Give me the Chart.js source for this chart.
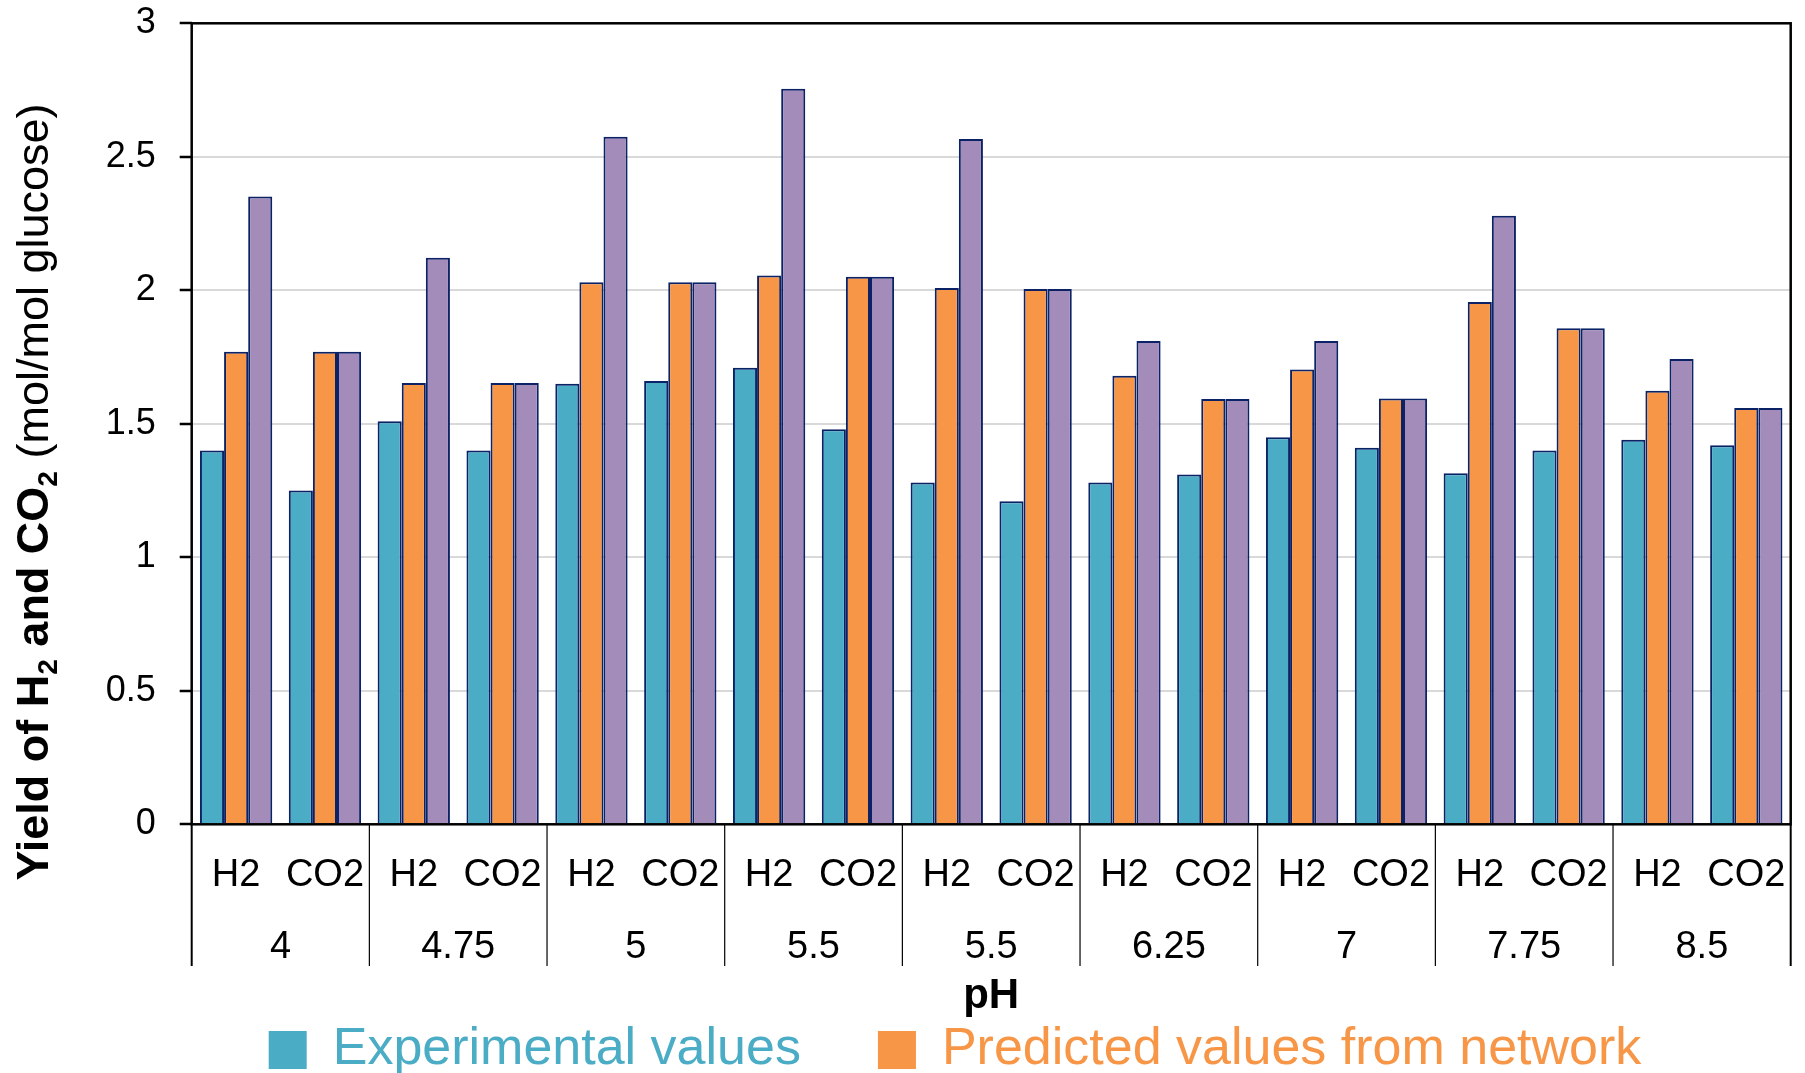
<!DOCTYPE html>
<html>
<head>
<meta charset="utf-8">
<title>Yield of H2 and CO2 vs pH</title>
<script src="https://cdn.jsdelivr.net/npm/chart.js@4.4.1/dist/chart.umd.min.js"></script>
<style>
  html, body { margin: 0; padding: 0; background: #ffffff; }
  #wrap { width: 1805px; height: 1073px; }
</style>
</head>
<body>
<div id="wrap"><canvas id="chart" width="1805" height="1073"></canvas></div>
<script>
// Inner category level (gas) and outer category level (pH)
const gasLabels = ['H2', 'CO2', 'H2', 'CO2', 'H2', 'CO2', 'H2', 'CO2', 'H2', 'CO2',
                   'H2', 'CO2', 'H2', 'CO2', 'H2', 'CO2', 'H2', 'CO2'];
const phLabels = ['4', '4.75', '5', '5.5', '5.5', '6.25', '7', '7.75', '8.5'];

// Yields, mol/mol glucose
const experimental = [1.40, 1.25, 1.51, 1.40, 1.65, 1.66, 1.71, 1.48, 1.28, 1.21,
                      1.28, 1.31, 1.45, 1.41, 1.315, 1.40, 1.44, 1.42];
const predicted = [1.77, 1.77, 1.653, 1.653, 2.03, 2.03, 2.055, 2.051, 2.009, 2.005,
                   1.68, 1.593, 1.703, 1.595, 1.956, 1.858, 1.624, 1.559];
const thirdSeries = [2.351, 1.77, 2.122, 1.653, 2.575, 2.03, 2.755, 2.051, 2.567, 2.005,
                     1.81, 1.593, 1.81, 1.595, 2.279, 1.858, 1.743, 1.559];

const yTicks = [0, 0.5, 1, 1.5, 2, 2.5, 3];

const FONT = '"Liberation Sans", Arial, sans-serif';
Chart.defaults.font.family = FONT;
Chart.defaults.color = '#000000';

const BAR_EDGE = '#0C2266';

// Black frame around the plot area plus the group separators of the two-level category axis
const frameAndSeparators = {
  id: 'frameAndSeparators',
  afterDatasetsDraw(chart) {
    const {ctx, chartArea: a} = chart;
    const xs = chart.scales.x;
    const sepBottom = 966;
    ctx.save();
    ctx.strokeStyle = '#000000';
    for (let k = 0; k <= phLabels.length; k++) {
      let px;
      if (k === 0) px = a.left;
      else if (k === phLabels.length) px = a.right;
      else px = (xs.getPixelForValue(2 * k - 1) + xs.getPixelForValue(2 * k)) / 2;
      ctx.lineWidth = (k === 0 || k === phLabels.length) ? 2 : 1.2;
      ctx.beginPath();
      ctx.moveTo(px, a.bottom);
      ctx.lineTo(px, sepBottom);
      ctx.stroke();
    }
    ctx.lineWidth = 2.5;
    ctx.strokeRect(a.left, a.top, a.right - a.left, a.bottom - a.top);
    ctx.restore();
  }
};

// Rotated y-axis title with bold part and subscripts
const yAxisTitle = {
  id: 'yAxisTitle',
  afterDraw(chart) {
    const ctx = chart.ctx;
    const big = 45, small = 28, drop = 9;
    const parts = [
      {t: 'Yield of H', font: `bold ${big}px ${FONT}`, dy: 0},
      {t: '2', font: `bold ${small}px ${FONT}`, dy: drop},
      {t: ' and CO', font: `bold ${big}px ${FONT}`, dy: 0},
      {t: '2', font: `bold ${small}px ${FONT}`, dy: drop},
      {t: ' (mol/mol glucose)', font: `${big}px ${FONT}`, dy: 0}
    ];
    ctx.save();
    let total = 0;
    parts.forEach(p => { ctx.font = p.font; p.w = ctx.measureText(p.t).width; total += p.w; });
    ctx.translate(48, 492);
    ctx.rotate(-Math.PI / 2);
    ctx.fillStyle = '#000000';
    ctx.textBaseline = 'alphabetic';
    ctx.textAlign = 'left';
    let x = -total / 2;
    parts.forEach(p => { ctx.font = p.font; ctx.fillText(p.t, x, p.dy); x += p.w; });
    ctx.restore();
  }
};

function noOverhang(s) {
  s.paddingTop = 0;
  s.paddingBottom = 0;
  s.paddingLeft = 0;
  s.paddingRight = 0;
}

const barStyle = {borderColor: BAR_EDGE, borderWidth: 2, categoryPercentage: 0.814, barPercentage: 1.0};

new Chart(document.getElementById('chart'), {
  type: 'bar',
  data: {
    labels: gasLabels,
    datasets: [
      Object.assign({label: 'Experimental values', data: experimental, backgroundColor: '#4BACC6'}, barStyle),
      Object.assign({label: 'Predicted values from network', data: predicted, backgroundColor: '#F79646'}, barStyle),
      Object.assign({label: '', data: thirdSeries, backgroundColor: '#A38CBA'}, barStyle)
    ]
  },
  options: {
    responsive: false,
    animation: false,
    layout: {padding: {left: 0, right: 14.3, top: 23.3, bottom: 0}},
    plugins: {
      tooltip: {enabled: false},
      legend: {
        position: 'bottom',
        fullSize: false,
        align: 'start',
        maxHeight: 126,
        labels: {
          boxWidth: 38,
          boxHeight: 38,
          padding: 77,
          font: {size: 52},
          generateLabels(chart) {
            const items = Chart.defaults.plugins.legend.labels.generateLabels(chart);
            items.forEach(it => {
              it.fontColor = it.fillStyle;
              it.strokeStyle = it.fillStyle;
              it.lineWidth = 0;
            });
            return items.filter(it => it.text !== '');
          }
        }
      }
    },
    scales: {
      x: {
        type: 'category',
        position: 'bottom',
        weight: 0,
        labels: gasLabels,
        offset: true,
        grid: {display: false, drawTicks: false},
        border: {display: false},
        ticks: {font: {size: 38}, color: '#000000', padding: 28, maxRotation: 0, autoSkip: false},
        afterFit(s) { s.height = 95; noOverhang(s); }
      },
      x2: {
        type: 'category',
        position: 'bottom',
        weight: 1,
        labels: phLabels,
        offset: true,
        grid: {display: false, drawTicks: false},
        border: {display: false},
        ticks: {font: {size: 38}, color: '#000000', padding: -51, mirror: true, maxRotation: 0, autoSkip: false},
        title: {display: true, text: 'pH', color: '#000000', font: {size: 42, weight: 'bold'},
                padding: {top: 0, bottom: -75}},
        afterFit(s) { s.height = 27.7; noOverhang(s); }
      },
      y: {
        min: 0,
        max: 3,
        afterBuildTicks(s) { s.ticks = yTicks.map(v => ({value: v})); },
        ticks: {font: {size: 36}, color: '#000000', padding: 24, callback: v => String(v)},
        grid: {color: '#D9D9D9', lineWidth: 2, tickColor: '#000000', tickLength: 12, tickWidth: 2.5},
        border: {display: false},
        afterFit(s) { s.width = 191.7; noOverhang(s); }
      }
    }
  },
  plugins: [frameAndSeparators, yAxisTitle]
});
</script>
</body>
</html>
